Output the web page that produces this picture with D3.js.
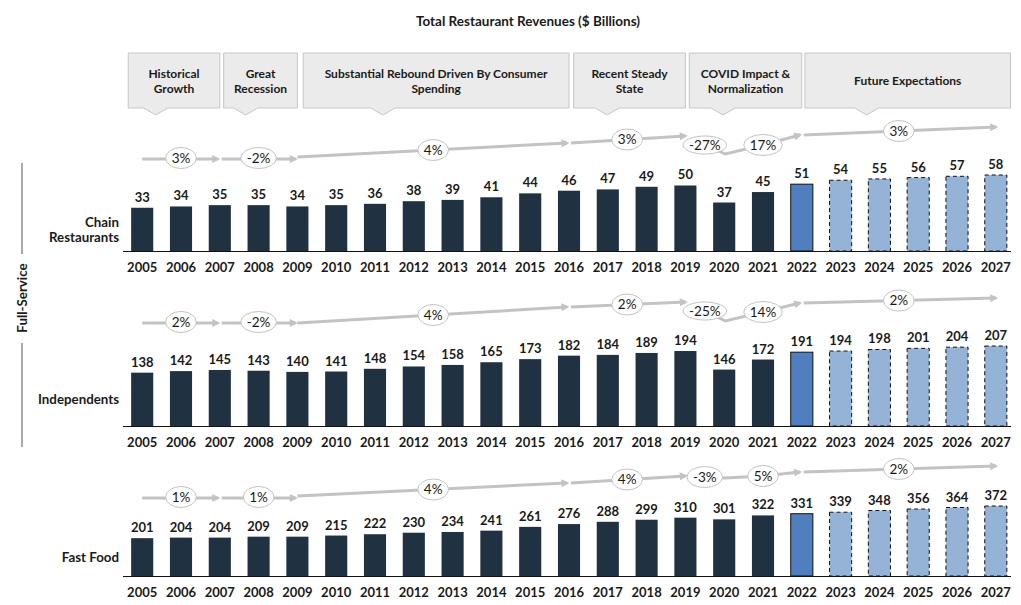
<!DOCTYPE html>
<html lang="en-US">
<head>
<meta charset="UTF-8">
<title>Total Restaurant Revenues</title>
<script src="https://d3js.org/d3.v7.min.js"></script>
<style>
  body { margin: 0; background: #fff; }
  svg text { font-family: Lato, "Open Sans", sans-serif; fill: #1a1a1a; }
  .bold { font-weight: bold; }
  .arrow { fill: none; stroke: #c3c3c3; stroke-width: 3px; }
</style>
</head>
<body>
<script>

// ---- data ----
var years = ["2005","2006","2007","2008","2009","2010","2011","2012","2013","2014","2015","2016",
             "2017","2018","2019","2020","2021","2022","2023","2024","2025","2026","2027"];

var chainValues       = [33,34,35,35,34,35,36,38,39,41,44,46,47,49,50,37,45,51,54,55,56,57,58];
var independentValues = [138,142,145,143,140,141,148,154,158,165,173,182,184,189,194,146,172,191,194,198,201,204,207];
var fastFoodValues    = [201,204,204,209,209,215,222,230,234,241,261,276,288,299,310,301,322,331,339,348,356,364,372];

var chainGrowth       = ["3%","-2%","4%","3%","-27%","17%","3%"];
var independentGrowth = ["2%","-2%","4%","2%","-25%","14%","2%"];
var fastFoodGrowth    = ["1%","1%","4%","4%","-3%","5%","2%"];

var periodLabels = [["Historical","Growth"],["Great","Recession"],
                    ["Substantial Rebound Driven By Consumer","Spending"],
                    ["Recent Steady","State"],["COVID Impact &","Normalization"],["Future Expectations"]];
var periodSpans  = [[2004.64,2007],[2007.1,2009],[2009.15,2016],[2016.12,2019],[2019.1,2022],[2022.08,2027.38]];

// ---- layout ----
var W = 1021, H = 605;

var svg = d3.select("body").append("svg")
    .attr("width", W)
    .attr("height", H);

var x = d3.scaleBand()
    .domain(years)
    .range([122.8, 1015.2])
    .paddingInner(0.43)
    .paddingOuter(0.215);

var bw = x.bandwidth();
// year -> centre of bar, for the annotations
var xc = d3.scaleLinear()
    .domain([2005, 2027])
    .range([x("2005") + bw / 2, x("2027") + bw / 2]);

svg.append("defs").append("marker")
    .attr("id", "head")
    .attr("viewBox", "0 0 10 10")
    .attr("refX", 7).attr("refY", 5)
    .attr("markerWidth", 9).attr("markerHeight", 8)
    .attr("markerUnits", "userSpaceOnUse")
    .attr("orient", "auto")
  .append("path")
    .attr("d", "M0,0L10,5L0,10Z")
    .attr("fill", "#c3c3c3");

svg.append("text")
    .attr("class", "bold")
    .attr("x", 528).attr("y", 26)
    .attr("text-anchor", "middle")
    .style("font-size", "13.5px")
    .text("Total Restaurant Revenues ($ Billions)");

// callout boxes
var cTop = 53, cBot = 108;
periodSpans.forEach(function(s, i) {
  var x0 = xc(s[0]), x1 = xc(s[1]);
  var px = x0 + 0.3 * (x1 - x0);
  svg.append("path")
      .attr("d", "M" + x0 + "," + cTop + "H" + x1 + "V" + cBot + "H" + (px + 12) +
                 "L" + px + "," + (cBot + 7) + "L" + (px - 12) + "," + cBot + "H" + x0 + "Z")
      .attr("fill", "#ebebeb")
      .attr("stroke", "#c6c6c6");
  var lines = periodLabels[i];
  var t = svg.append("text")
      .attr("class", "bold")
      .attr("text-anchor", "middle")
      .style("font-size", "12px");
  lines.forEach(function(l, j) {
    t.append("tspan")
        .attr("x", (x0 + x1) / 2)
        .attr("y", lines.length == 1 ? 84.5 : 77.5 + j * 15)
        .text(l);
  });
});

function barColor(yr) {
  if (yr < 2022) return "#203142";
  if (yr == 2022) return "#4f7fbe";
  return "#95b3d7";
}

var panels = [
  { name: ["Chain", "Restaurants"], values: chainValues, growth: chainGrowth,
    base: 251, top: 175, max: 58, labelY: 242,
    track: { level: 159, seg3: [-2, -16], seg4: -23, covid: [-14, -5, -14, -24], future: -32 } },
  { name: ["Independents"], values: independentValues, growth: independentGrowth,
    base: 426, top: 346, max: 207, labelY: 404,
    track: { level: 323, seg3: [0, -16], seg4: -21, covid: [-12, -2, -11, -20], future: -25 } },
  { name: ["Fast Food"], values: fastFoodValues, growth: fastFoodGrowth,
    base: 576, top: 506, max: 372, labelY: 562,
    track: { level: 498, seg3: [-2, -15], seg4: -22, covid: [-21, -20, -22, -26], future: -32 } }
];

panels.forEach(function(p) {
  var y = d3.scaleLinear().domain([0, p.max]).range([p.base, p.top]);
  var g = svg.append("g");
  var data = years.map(function(yr, i) { return { year: yr, value: p.values[i] }; });

  g.selectAll("rect")
    .data(data)
    .enter().append("rect")
      .attr("x", function(d) { return x(d.year); })
      .attr("y", function(d) { return y(d.value); })
      .attr("width", bw)
      .attr("height", function(d) { return p.base - y(d.value); })
      .attr("fill", function(d) { return barColor(+d.year); })
      .attr("stroke", function(d) { return +d.year >= 2022 ? "#111" : "none"; })
      .attr("stroke-width", 1)
      .attr("stroke-dasharray", function(d) { return +d.year > 2022 ? "4,3" : null; });

  g.selectAll(".val")
    .data(data)
    .enter().append("text")
      .attr("class", "val bold")
      .attr("x", function(d) { return x(d.year) + bw / 2; })
      .attr("y", function(d) { return y(d.value) - 6; })
      .attr("text-anchor", "middle")
      .style("font-size", "13px")
      .text(function(d) { return d.value; });

  // axis
  var axis = g.append("g")
      .attr("transform", "translate(0," + p.base + ")")
      .call(d3.axisBottom(x).tickSize(0).tickPadding(12));
  axis.select(".domain").remove();
  axis.selectAll("text")
      .attr("class", "bold")
      .style("font-size", "13px")
      .style("font-family", "Lato, 'Open Sans', sans-serif")
      .attr("fill", "#1a1a1a");
  g.append("line")
      .attr("x1", 123).attr("x2", 1011)
      .attr("y1", p.base + 0.5).attr("y2", p.base + 0.5)
      .attr("stroke", "#111").attr("stroke-width", 1.2);

  // category label
  var lt = g.append("text")
      .attr("class", "bold")
      .attr("text-anchor", "end")
      .style("font-size", "13.3px");
  p.name.forEach(function(n, j) {
    lt.append("tspan")
        .attr("x", 119)
        .attr("y", p.labelY - (p.name.length - 1 - j) * 15)
        .text(n);
  });

  // growth arrows
  var t = p.track;
  var lerp = function(a, b, f) { return a + (b - a) * f; };
  var segs = [
    { pts: [[2005, 0], [2006.95, 0]], arrow: true },
    { pts: [[2007.05, 0], [2008.95, 0]], arrow: true },
    { pts: [[2009, t.seg3[0]], [2015.95, t.seg3[1]]], arrow: true },
    { pts: [[2016.05, t.seg3[1]], [2019, t.seg4]], arrow: true },
    { pts: [[2019.5, t.covid[0]], [2020.03, t.covid[1]], [2021, t.covid[2]]], arrow: false },
    { pts: [[2021, t.covid[2]], [2021.95, t.covid[3]]], arrow: true },
    { pts: [[2022.05, t.covid[3]], [2027, t.future]], arrow: true }
  ];
  var line = d3.line()
      .x(function(d) { return xc(d[0]); })
      .y(function(d) { return t.level + d[1]; });
  segs.forEach(function(s) {
    g.append("path")
        .attr("class", "arrow")
        .attr("d", line(s.pts))
        .attr("marker-end", s.arrow ? "url(#head)" : null);
  });

  var spots = [
    [2006, -1], [2008, -1],
    [2012.5, lerp(t.seg3[0], t.seg3[1], 0.5)],
    [2017.5, lerp(t.seg3[1], t.seg4, 0.5)],
    [2019.5, t.covid[0]], [2021, t.covid[2]],
    [2024.5, lerp(t.covid[3], t.future, 0.5)]
  ];
  p.growth.forEach(function(label, i) {
    var cx = xc(spots[i][0]), cy = t.level + spots[i][1];
    var tx = g.append("text")
        .attr("x", cx).attr("y", cy + 4.8)
        .attr("text-anchor", "middle")
        .style("font-size", "13.5px")
        .text(label);
    var w = tx.node().getComputedTextLength();
    g.insert("ellipse", function() { return tx.node(); })
        .attr("cx", cx).attr("cy", cy)
        .attr("rx", w / 2 + 6)
        .attr("ry", label.length > 3 ? 9 : 10.5)
        .attr("fill", "#fff")
        .attr("stroke", "#c3c3c3");
  });
});

// Full-Service bracket
svg.append("line").attr("x1", 22).attr("x2", 22).attr("y1", 163).attr("y2", 254)
    .attr("stroke", "#555");
svg.append("line").attr("x1", 22).attr("x2", 22).attr("y1", 343).attr("y2", 447)
    .attr("stroke", "#555");
svg.append("text")
    .attr("class", "bold")
    .attr("transform", "translate(26.5,298) rotate(-90)")
    .attr("text-anchor", "middle")
    .style("font-size", "13.3px")
    .text("Full-Service");

</script>
</body>
</html>
